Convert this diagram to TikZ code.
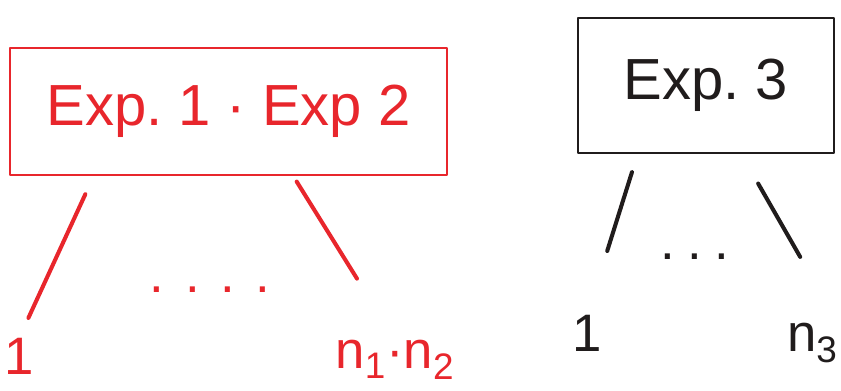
\documentclass[tikz,border=0pt]{standalone}
\usepackage{fontspec}
\setmainfont{Liberation Sans}
\definecolor{penRed}{RGB}{232,38,44}
\definecolor{penBlack}{RGB}{32,28,28}

\begin{document}
\begin{tikzpicture}[line join=round,
  expBox/.style={draw,line width=1.7pt,inner sep=0pt,font=\fontsize{33}{40}\selectfont},
  leafLabel/.style={inner sep=0pt,anchor=base,font=\fontsize{30}{36}\selectfont},
  dotRow/.style={inner sep=0pt,anchor=base,font=\fontsize{30}{36}\selectfont},
  branch/.style={line width=2.3pt,line cap=round}]

% fixed canvas, 841x391 proportions
\path[use as bounding box] (0,0) rectangle (16.82,7.82);

% experiment boxes
\node[expBox,penRed,minimum width=8.74cm,minimum height=2.54cm] (exp12) at (4.57,5.59) {Exp.\ 1 · Exp 2};
\node[expBox,penBlack,minimum width=5.12cm,minimum height=2.7cm] (exp3) at (14.12,6.11) {Exp.\ 3};

% leaves of the combined experiment
\node[leafLabel,penRed] (redFirst) at (0.38,0.32) {1};
\node[dotRow,penRed] (redDots) at (4.2,1.96) {.\hspace{0.41cm}.\hspace{0.41cm}.\hspace{0.41cm}.};
\node[leafLabel,penRed] (redLast) at (7.9,0.45) {n\textsubscript{1}·n\textsubscript{2}};

% leaves of experiment 3
\node[leafLabel,penBlack] (blackFirst) at (11.74,0.78) {1};
\node[dotRow,penBlack] (blackDots) at (13.9,2.62) {.\hspace{0.25cm}.\hspace{0.25cm}.};
\node[leafLabel,penBlack] (blackLast) at (16.25,0.78) {n\textsubscript{3}};

% branches (gaps at both ends, like the sketch)
\draw[branch,penRed,shorten <=0.39cm,shorten >=0.45cm] ([xshift=1.70cm]exp12.south west) -- (redFirst.north);
\draw[branch,penRed,shorten <=0.12cm,shorten >=1.44cm] ([xshift=5.70cm]exp12.south west) -- (redLast.north);
\draw[branch,penBlack,shorten <=0.37cm,shorten >=1.35cm] ([xshift=1.22cm]exp3.south west) -- (blackFirst.north);
\draw[branch,penBlack,shorten <=0.67cm,shorten >=1.53cm] ([xshift=3.30cm]exp3.south west) -- (blackLast.north east);

\end{tikzpicture}
\end{document}
